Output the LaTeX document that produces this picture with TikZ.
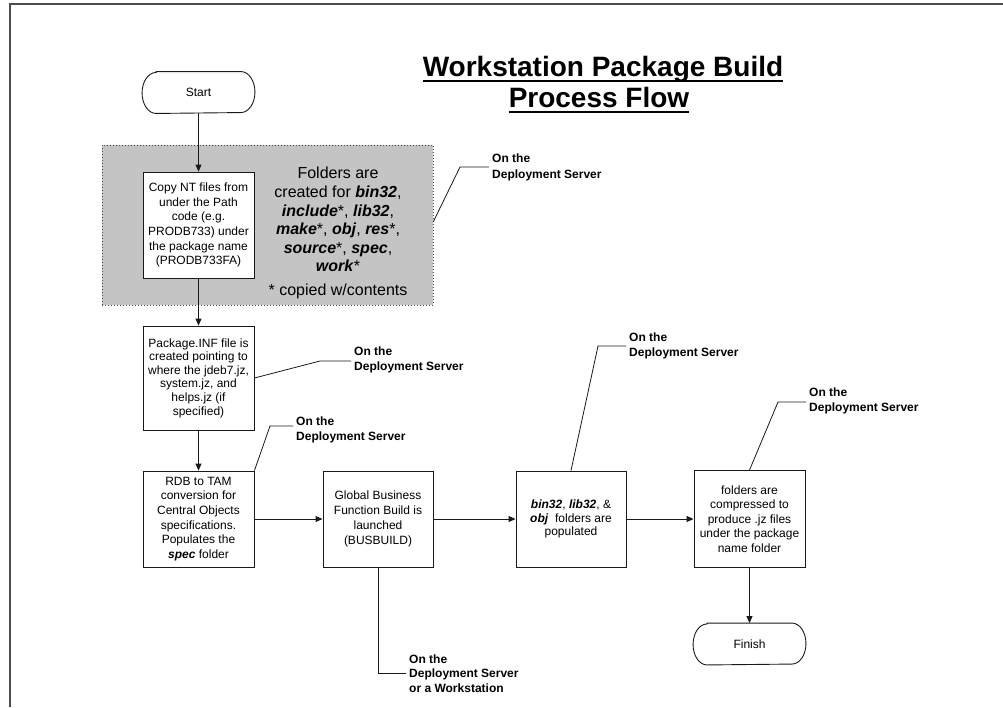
\documentclass[tikz,border=0pt]{standalone}
\usepackage{fontspec}
\setmainfont{Liberation Sans}
\usetikzlibrary{arrows.meta}
\definecolor{regiongray}{RGB}{196,196,196}
\definecolor{ink}{RGB}{25,25,25}
\newcommand{\fld}[1]{\textbf{\textit{#1}}}
% outline of a terminal node: flat top and bottom, elliptic sides
\newcommand{\terminaloutline}[1]{%
  \draw[draw=ink, line width=0.9pt]
    ([xshift=14pt]#1.north west) -- ([xshift=-14pt]#1.north east)
    arc[start angle=90, end angle=-90, x radius=14pt, y radius=20.5pt]
    -- ([xshift=14pt]#1.south west)
    arc[start angle=270, end angle=90, x radius=14pt, y radius=20.5pt]
    -- cycle;}

\begin{document}
\begin{tikzpicture}[x=1pt,y=-1pt,
  box/.style={draw=ink, line width=0.9pt, fill=white, inner sep=0pt,
    minimum width=111pt, align=center, font=\fontsize{12}{14.6}\selectfont},
  term/.style={box, draw=none, fill=none, minimum width=112pt, minimum height=41pt},
  flow/.style={draw=ink, line width=0.9pt, -{Triangle[length=7pt,width=6pt]}},
  lead/.style={draw=ink, line width=0.8pt},
  tag/.style={anchor=west, align=left, inner ysep=0pt, inner xsep=3pt,
    font=\fontsize{12}{15}\selectfont\bfseries},
  heading/.style={inner sep=0pt, anchor=base, font=\fontsize{28}{31}\selectfont\bfseries},
]
\useasboundingbox (0,0) rectangle (1003,707);

% page frame
\draw[line width=2pt, gray!60!black] (9.5,707) -- (9.5,3.5) -- (1003,3.5);

% heading with underlines
\node[heading] (h1) at (603,76) {Workstation Package Build};
\node[heading] (h2) at (599,107) {Process Flow};
\draw[line width=2pt] ([yshift=-5pt]h1.base west) -- ([yshift=-5pt]h1.base east);
\draw[line width=2pt] ([yshift=-5pt]h2.base west) -- ([yshift=-5pt]h2.base east);

% shaded region for the first step
\node[draw=ink!80, dash pattern=on 1pt off 2pt, fill=regiongray,
  minimum width=331pt, minimum height=160pt, inner sep=0pt] (region) at (267.5,225) {};

% process steps
\node[term] (start) at (198.5,92.5) {Start};
\terminaloutline{start}
\node[box, minimum height=106pt] (copy) at (198.5,225)
  {Copy NT files from\\under the Path\\code (e.g.\\PRODB733) under\\the package name\\(PRODB733FA)};
\node[align=center, inner sep=0pt, font=\fontsize{16}{18.6}\selectfont] (folders) at (338,233)
  {Folders are\\created for \fld{bin32},\\\fld{include}*, \fld{lib32},\\\fld{make}*, \fld{obj}, \fld{res}*,\\\fld{source}*, \fld{spec},\\\fld{work}*\\[5pt]* copied w/contents};
\node[box, minimum height=104pt, font=\fontsize{12}{13.6}\selectfont] (pkg) at (198.5,378)
  {Package.INF file is\\created pointing to\\where the jdeb7.jz,\\system.jz, and\\helps.jz (if\\specified)};
\node[box, minimum height=96pt] (rdb) at (198.5,519)
  {RDB to TAM\\conversion for\\Central Objects\\specifications.\\Populates the\\\fld{spec} folder};
\node[box, minimum width=110pt, minimum height=96pt, font=\fontsize{12}{15}\selectfont] (glob) at (378,519)
  {Global Business\\Function Build is\\launched\\(BUSBUILD)};
\node[box, minimum width=110pt, minimum height=96pt, font=\fontsize{12}{13.6}\selectfont] (bin) at (571,519)
  {\fld{bin32}, \fld{lib32}, \&\\\fld{obj} \ folders are\\populated};
\node[box, minimum height=97pt] (comp) at (749.5,519)
  {folders are\\compressed to\\produce .jz files\\under the package\\name folder};
\node[term] (finish) at (749.5,644) {Finish};
\terminaloutline{finish}

% flow connectors
\draw[flow] (start) -- (copy);
\draw[flow] (copy) -- (pkg);
\draw[flow] (pkg) -- (rdb);
\draw[flow] (rdb) -- (glob);
\draw[flow] (glob) -- (bin);
\draw[flow] (bin) -- (comp);
\draw[flow] (comp) -- (finish);

% location callouts
\node[tag, font=\fontsize{12}{16.5}\selectfont\bfseries] (t1) at (489,167.5) {On the\\Deployment Server};
\coordinate (k1) at (460,167);
\draw[lead] ([yshift=3pt]region.east) -- (k1) -- (k1 -| t1.west);

\node[tag] (t2) at (351,360) {On the\\Deployment Server};
\coordinate (k2) at (320,361);
\draw[lead] (pkg.east) -- (k2) -- (k2 -| t2.west);

\node[tag] (t3) at (293,429.5) {On the\\Deployment Server};
\coordinate (k3) at (270,426);
\draw[lead] (rdb.north east) -- (k3) -- (k3 -| t3.west);

\node[tag, font=\fontsize{12}{14.5}\selectfont\bfseries] (t4) at (406,673.5) {On the\\Deployment Server\\or a Workstation};
\coordinate (k4) at (378,673);
\draw[lead] (glob.south) -- (k4) -- (k4 -| t4.west);

\node[tag] (t5) at (626,345.5) {On the\\Deployment Server};
\coordinate (k5) at (598,346);
\draw[lead] (bin.north) -- (k5) -- (k5 -| t5.west);

\node[tag] (t6) at (806,400.5) {On the\\Deployment Server};
\coordinate (k6) at (778,402);
\draw[lead] (comp.north) -- (k6) -- (k6 -| t6.west);
\end{tikzpicture}
\end{document}
